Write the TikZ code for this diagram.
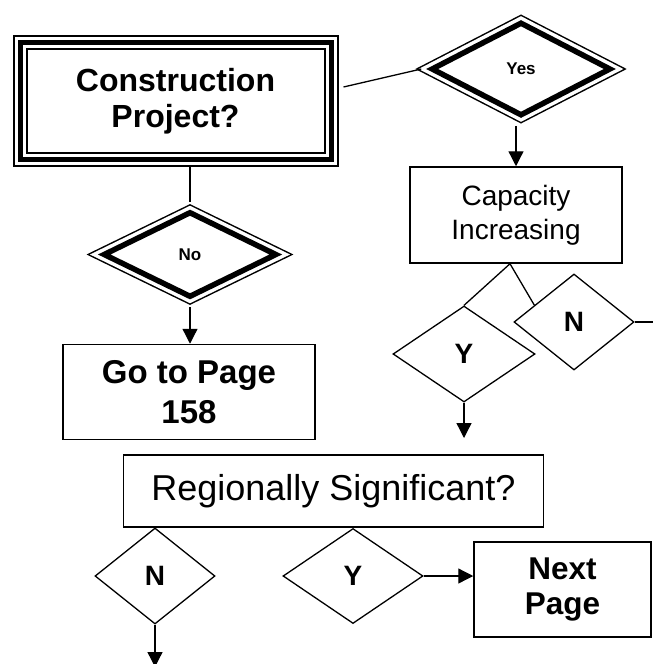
\documentclass[tikz,border=0pt]{standalone}
\usepackage{fontspec}
\setmainfont{Liberation Sans}
\usepackage{tikz}
\usetikzlibrary{shapes.geometric,arrows.meta}

\begin{document}
\begin{tikzpicture}[x=1pt,y=-1pt]
	 \tikzstyle{box}=[rectangle,draw,line width=1.5pt,align=center,inner sep=0pt]
	 \tikzstyle{triple box}=[box,line width=5pt,outer sep=7.5pt,preaction={draw,line width=15pt},preaction={draw,white,line width=11pt}]
	 \tikzstyle{choice}=[diamond,draw,line width=1.3pt,inner sep=0pt,font=\bfseries\fontsize{28}{28}\selectfont]
	 \tikzstyle{double choice}=[choice,line width=5.5pt,fill=white,outer sep=7.75pt,preaction={draw,line width=15.5pt},preaction={draw,white,line width=12.5pt},font=\bfseries\fontsize{17}{17}\selectfont]
	 \tikzstyle{edge}=[draw,line width=1.3pt]
	 \tikzstyle{arrow edge}=[edge,-{Triangle[width=15pt,length=15pt]}]

	 \useasboundingbox (0,0) rectangle (653,664);

	 \node[triple box,minimum width=311pt,minimum height=117.5pt,font=\bfseries\fontsize{32}{36}\selectfont] (cp) at (175.5,101) {Construction\\Project?};
	 \node[double choice,minimum width=184pt,minimum height=98pt] (yes) at (521,69) {Yes};
	 \node[double choice,minimum width=178pt,minimum height=90pt] (no) at (190,254.5) {No};
	 \node[box,minimum width=212pt,minimum height=96pt,font=\fontsize{28}{34}\selectfont] (cap) at (516,215) {Capacity\\Increasing};
	 \node[box,minimum width=252pt,minimum height=95pt,font=\bfseries\fontsize{33}{40}\selectfont] (go) at (189,392) {Go to Page\\158};
	 \node[choice,minimum width=142pt,minimum height=96pt] (capy) at (464,354) {Y};
	 \node[choice,minimum width=120pt,minimum height=96pt] (capn) at (574,322) {N};
	 \node[box,minimum width=420pt,minimum height=72pt,font=\fontsize{36}{36}\selectfont] (reg) at (333.5,491) {Regionally Significant?};
	 \node[choice,minimum width=120pt,minimum height=96pt] (rn) at (155,576) {N};
	 \node[choice,minimum width=140pt,minimum height=95pt] (ry) at (353,576) {Y};
	 \node[box,minimum width=177pt,minimum height=95pt,font=\bfseries\fontsize{31.5}{35}\selectfont] (next) at (562.5,589.5) {Next\\Page};
	 \coordinate (capnout) at (653,322);
	 \coordinate (capydown) at (464,438);
	 \coordinate (rndown) at (155,667);

	 \draw[edge] ([xshift=5pt,yshift=14pt]cp.east) -- (yes.west);
	 \draw[edge] (cp.south -| no.north) -- (no.north);
	 \draw[arrow edge] (no.south) -- (no.south |- go.north);
	 \draw[arrow edge] (cap.north |- yes.south) -- (cap.north);
	 \draw[edge] ([xshift=-6pt]cap.south) -- (capy.north);
	 \draw[edge] ([xshift=-6pt]cap.south) -- (capn.157);
	 \draw[edge] (capn.east) -- (capnout);
	 \draw[arrow edge] (capy.south) -- (capydown);
	 \draw[arrow edge] (ry.east) -- (ry.east -| next.west);
	 \draw[arrow edge] (rn.south) -- (rndown);
 \end{tikzpicture}
\end{document}
